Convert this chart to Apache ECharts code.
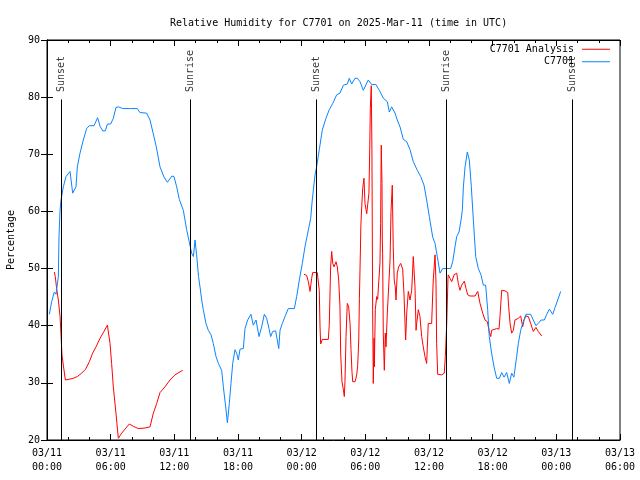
<!DOCTYPE html>
<html>
<head>
<meta charset="utf-8">
<script src="https://cdn.jsdelivr.net/npm/echarts@6/dist/echarts.min.js"></script>
<style>html,body{margin:0;padding:0;background:#fff}#c{width:640px;height:480px}</style>
</head>
<body>
<div id="c"></div>
<script>
// Hours since 2025-03-11 00:00 UTC
const stationHours = [0.22,0.44,0.69,0.85,0.97,1.07,1.13,1.23,1.32,1.38,1.54,1.79,2.17,2.42,2.57,2.73,2.86,3.11,3.42,3.74,3.99,4.43,4.77,5.0,5.25,5.5,5.69,6.0,6.25,6.5,6.75,7.13,7.88,8.51,8.76,9.39,9.71,10.0,10.3,10.65,11.03,11.34,11.5,11.78,11.97,12.22,12.47,12.85,13.16,13.4,13.63,13.8,13.95,14.1,14.28,14.42,14.58,14.73,14.98,15.2,15.46,15.67,15.93,16.15,16.46,16.62,16.84,17.0,17.18,17.34,17.5,17.72,17.87,18.03,18.19,18.5,18.66,18.91,19.22,19.44,19.7,19.98,20.23,20.48,20.7,20.92,21.08,21.27,21.55,21.7,21.84,21.96,22.18,22.43,22.74,23.31,23.53,23.78,24.06,24.31,24.57,24.85,25.0,25.26,25.41,25.66,25.94,26.29,26.6,26.93,27.3,27.61,27.93,28.3,28.49,28.71,29.03,29.24,29.5,29.81,30.28,30.6,31.0,31.32,31.7,32.07,32.26,32.48,32.8,33.01,33.27,33.58,33.9,34.21,34.52,34.9,35.22,35.53,35.78,36.03,36.35,36.57,36.78,37.04,37.29,38.04,38.23,38.45,38.61,38.83,39.02,39.14,39.24,39.4,39.61,39.8,39.99,40.18,40.4,40.65,40.9,41.12,41.34,41.53,41.68,41.9,42.13,42.38,42.63,42.85,43.07,43.32,43.57,43.79,44.0,44.17,44.26,44.42,44.64,44.89,45.14,45.58,45.83,46.08,46.3,46.56,46.87,47.1,47.34,47.66,47.88,48.13,48.41];
const stationRH = [42.0,44.2,45.9,45.5,45.4,48.6,55.6,60.2,62.0,62.3,64.3,66.1,67.0,63.2,63.4,64.3,67.8,70.2,72.5,74.5,75.0,75.0,76.4,74.9,74.1,74.1,75.3,75.3,76.3,78.2,78.3,78.0,78.0,78.0,77.3,77.2,76.0,73.7,71.3,67.8,66.0,65.1,65.1,66.2,66.1,64.3,62.1,60.2,56.8,54.7,52.7,52.1,55.0,52.4,48.6,46.8,44.5,42.8,40.4,39.2,38.4,36.9,34.6,33.4,32.2,29.3,25.8,23.0,26.4,29.9,33.4,35.8,35.2,34.0,35.9,36.0,39.5,41.0,42.0,40.1,41.0,38.1,39.8,42.0,41.3,39.5,38.1,39.0,39.1,37.5,36.0,39.2,40.4,41.6,43.0,43.0,45.1,48.0,50.9,53.8,56.2,58.8,62.0,66.4,67.8,70.8,74.2,76.3,77.8,78.9,80.4,80.7,82.1,82.3,83.3,82.3,83.3,83.3,82.7,81.2,83.0,82.2,82.2,81.2,79.8,79.2,77.4,78.3,77.2,76.0,74.8,72.6,72.2,70.8,68.7,67.2,66.1,64.6,62.0,59.1,55.5,54.4,52.1,49.2,50.0,50.0,51.2,53.8,55.6,56.4,58.5,60.2,64.3,67.8,70.4,69.0,64.3,58.5,52.1,50.0,48.9,47.1,47.1,42.8,38.1,35.2,32.8,30.8,30.8,31.8,31.0,31.8,29.9,31.7,31.0,31.0,34.6,36.9,39.2,40.7,42.0,42.0,41.0,40.0,40.4,41.0,41.0,42.0,42.9,42.0,43.2,44.5,46.0];

const analysisHours = [0.69,0.78,0.91,1.07,1.23,1.32,1.41,1.54,1.73,2.48,2.86,3.27,3.64,3.99,4.3,4.62,5.0,5.37,5.69,5.94,6.09,6.25,6.5,6.72,7.04,7.35,7.76,8.13,8.6,9.24,9.71,10.02,10.34,10.65,11.12,11.59,12.06,12.79,18.0,
24.22,24.47,24.63,24.79,24.94,25.04,25.47,25.57,25.66,25.73,25.79,25.94,26.51,26.6,26.73,26.83,26.93,27.05,27.24,27.36,27.49,27.61,27.68,27.8,27.93,28.02,28.08,28.18,28.3,28.43,28.56,28.65,28.74,28.81,29.03,29.19,29.28,29.38,29.44,29.53,29.58,29.66,29.75,29.87,29.97,30.13,30.28,30.34,30.41,30.47,30.56,30.62,30.66,30.69,30.75,30.82,30.85,30.94,31.07,31.16,31.29,31.38,31.44,31.47,31.5,31.57,31.6,31.63,31.69,31.79,31.88,31.95,32.07,32.2,32.33,32.42,32.54,32.57,32.63,32.72,32.82,32.89,33.01,33.14,33.33,33.52,33.64,33.74,33.8,33.9,34.05,34.21,34.37,34.52,34.59,34.68,34.78,34.84,34.99,35.15,35.31,35.46,35.62,35.78,35.93,36.25,36.4,36.57,36.66,36.72,36.82,37.2,37.44,37.54,37.67,37.79,37.82,37.98,38.14,38.36,38.61,38.76,38.92,39.08,39.33,39.49,39.65,39.86,40.34,40.59,40.81,41.06,41.28,41.5,41.68,41.82,41.9,42.06,42.38,42.6,42.69,42.85,43.16,43.42,43.51,43.64,43.79,43.95,44.1,44.2,44.42,44.64,44.83,44.95,45.11,45.36,45.58,45.83,46.08,46.3,46.62];
const analysisRH = [49.4,48.6,46.5,44.5,41.6,38.4,34.9,33.1,30.5,30.8,31.1,31.7,32.4,33.7,35.2,36.3,37.8,39.0,40.1,36.9,33.4,29.3,24.7,20.3,21.2,21.9,22.8,22.4,22.0,22.1,22.3,24.7,26.4,28.3,29.3,30.5,31.4,32.2,null,
49.0,48.8,47.7,46.0,48.3,49.3,49.3,49.4,46.2,39.8,36.8,37.6,37.6,40.1,50.3,53.0,50.9,50.3,51.2,50.3,48.0,43.3,34.9,30.2,28.8,27.6,30.2,38.1,43.9,43.3,40.4,35.8,32.0,30.2,30.2,31.4,33.1,37.5,44.8,52.7,57.6,60.8,64.0,65.8,61.4,59.6,59.6,63.2,70.4,78.0,82.0,70.8,55.0,42.8,29.9,37.8,32.8,42.8,45.1,44.6,44.5,51.0,57.9,64.9,71.6,64.9,55.0,52.7,38.7,32.2,38.7,36.3,42.2,46.8,51.5,60.0,64.6,60.8,53.8,48.0,46.8,44.5,49.2,50.3,50.9,49.9,45.7,40.4,37.5,42.2,46.0,44.5,46.2,52.1,49.8,46.8,39.2,40.4,42.8,41.6,38.1,36.3,34.6,33.4,40.4,40.4,48.0,52.4,47.4,36.9,31.5,31.4,31.7,34.6,40.4,48.3,48.9,48.3,47.7,48.9,49.2,47.4,46.2,47.1,47.8,46.5,45.4,45.2,45.2,46.0,43.9,42.2,41.0,40.7,39.0,38.1,39.2,39.5,39.5,39.4,41.6,46.2,46.1,45.8,43.3,40.4,38.7,39.2,41.0,41.0,41.3,41.7,39.8,40.9,41.7,41.6,40.4,39.0,39.7,39.0,38.2];

const sunEvents = ['Sunset','Sunrise','Sunset','Sunrise','Sunset'];
const sunHours = [1.38, 13.54, 25.38, 37.62, 49.5];

const yTicks = [20,30,40,50,60,70,80,90];

const FONT = 'DejaVu Sans Mono';
const pad = n => (n < 10 ? '0' : '') + n;
const fmtX = h => '03/' + pad(11 + Math.floor(h / 24)) + '\n' + pad(h % 24) + ':00';

const zip = (a, b) => a.map((v, i) => [v, b[i]]);

const sunLineTop = 79.6, sunLabelBase = 80.9;

const chart = echarts.init(document.getElementById('c'), null, {renderer: 'canvas'});
chart.setOption({
  animation: false,
  backgroundColor: '#fff',
  title: {
    text: 'Relative Humidity for C7701 on 2025-Mar-11 (time in UTC)',
    left: 165, top: 13,
    textStyle: {fontFamily: FONT, fontSize: 10, fontWeight: 'normal', color: '#000'}
  },
  legend: {
    orient: 'vertical', align: 'right', right: 30, top: 43, padding: 0, itemGap: 0,
    itemWidth: 28, itemHeight: 1, icon: 'rect',
    data: ['C7701 Analysis', 'C7701'],
    textStyle: {fontFamily: FONT, fontSize: 10, color: '#000', lineHeight: 12.5, padding: [0, 3, 0, 0]}
  },
  grid: {left: 47, right: 20, top: 40, bottom: 40, containLabel: false, outerBoundsMode: 'none',
    show: true, borderColor: '#000', borderWidth: 1, backgroundColor: 'transparent'},
  xAxis: [{
    type: 'value', min: 0, max: 54, interval: 6,
    axisLine: {show: true, lineStyle: {color: '#000', width: 1}},
    axisTick: {show: true, inside: true, length: 6, lineStyle: {color: '#000'}},
    minorTick: {show: true, splitNumber: 3, length: 3, lineStyle: {color: '#000'}},
    splitLine: {show: false},
    axisLabel: {fontFamily: FONT, fontSize: 10, color: '#000', lineHeight: 14, margin: 6, formatter: fmtX}
  }, {
    type: 'value', position: 'top', min: 0, max: 54, interval: 6,
    axisLine: {show: true, lineStyle: {color: '#000', width: 1}},
    axisTick: {show: true, inside: true, length: 6, lineStyle: {color: '#000'}},
    minorTick: {show: true, splitNumber: 3, length: 3, lineStyle: {color: '#000'}},
    splitLine: {show: false}, axisLabel: {show: false}
  }],
  yAxis: [{
    type: 'value', min: yTicks[0], max: yTicks[yTicks.length - 1], interval: 10,
    name: 'Percentage', nameLocation: 'middle', nameGap: 31, nameRotate: 90,
    nameTextStyle: {fontFamily: FONT, fontSize: 10, color: '#000'},
    axisLine: {show: true, lineStyle: {color: '#000', width: 1}},
    axisTick: {show: true, inside: true, length: 6, lineStyle: {color: '#000'}},
    splitLine: {show: false},
    axisLabel: {fontFamily: FONT, fontSize: 10, color: '#000', margin: 7}
  }, {
    type: 'value', position: 'right', min: yTicks[0], max: yTicks[yTicks.length - 1], interval: 10,
    axisLine: {show: true, lineStyle: {color: '#000', width: 1}},
    axisTick: {show: true, inside: true, length: 6, lineStyle: {color: '#000'}},
    splitLine: {show: false}, axisLabel: {show: false}
  }],
  series: [{
    name: 'C7701 Analysis', type: 'line', data: zip(analysisHours, analysisRH),
    showSymbol: false, symbol: 'none', connectNulls: false,
    lineStyle: {color: '#ff0000', width: 1}, itemStyle: {color: '#ff0000'}
  }, {
    name: 'C7701', type: 'line', data: zip(stationHours, stationRH),
    showSymbol: false, symbol: 'none',
    lineStyle: {color: '#0a84ff', width: 1}, itemStyle: {color: '#0a84ff'}
  }, {
    name: 'sun', type: 'scatter', symbolSize: 0, silent: true,
    data: sunHours.map((h, i) => ({value: [h, sunLabelBase], name: sunEvents[i]})),
    label: {show: true, position: 'inside', rotate: 90, align: 'left', verticalAlign: 'middle',
      formatter: p => p.name, fontFamily: FONT, fontSize: 10, color: '#000'},
    markLine: {
      silent: true, symbol: ['none', 'none'], label: {show: false},
      lineStyle: {color: '#000', width: 1, type: 'solid'},
      emphasis: {disabled: true},
      data: sunHours.map(h => [{coord: [h, 20]}, {coord: [h, sunLineTop]}])
    }
  }]
});
</script>
</body>
</html>
